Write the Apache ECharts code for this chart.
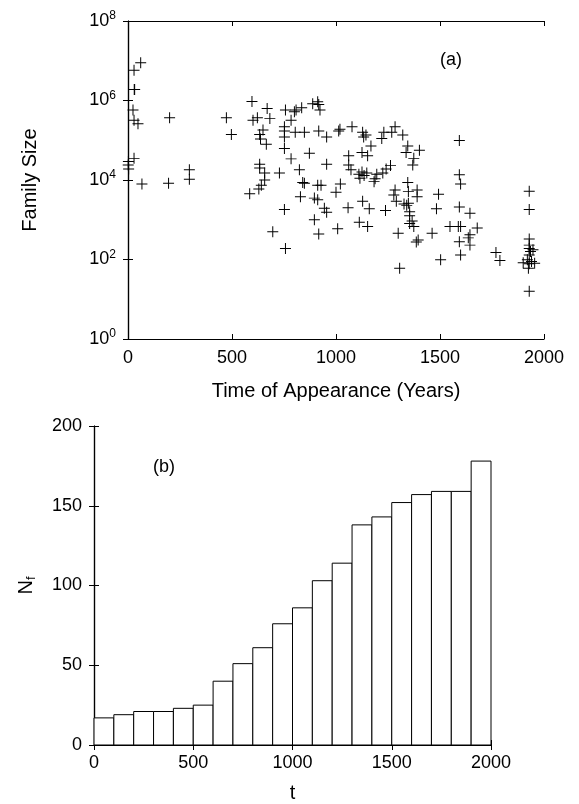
<!DOCTYPE html>
<html>
<head>
<meta charset="utf-8">
<script src="https://cdn.jsdelivr.net/npm/echarts@6/dist/echarts.min.js"></script>
<style>
html,body{margin:0;padding:0;background:#fff;}
#main{width:579px;height:804px;}
</style>
</head>
<body>
<div id="main"></div>
<script>
// (a) time of appearance (years) and family size
const appearYears = [
  61, 29, 32, 30, 24, 29, 48, 200, 29, 2, 1, 3, 67, 195, 295, 295,
  473, 497, 596, 669, 622, 601, 682, 757, 800, 808, 835, 784, 752, 752, 752, 752,
  804, 649, 633, 637, 665, 784, 633, 633, 657, 657, 641, 629, 585, 728, 824, 840,
  829, 752, 696, 757,
  888, 912, 923, 917, 848, 917, 955, 1013, 1019, 1077, 1128, 1144, 1133, 1168, 872, 955,
  1061, 1061, 1072, 1125, 1152, 1110, 1125, 1115, 1135, 1148, 1196, 1183, 848, 912, 928, 1021,
  1000, 896, 912, 944, 955, 1058, 1128, 1160, 896, 1008, 1112, 1152, 917,
  1230, 1220, 1268, 1284, 1321, 1345, 1337, 1401, 1374, 1369, 1262, 1241, 1225, 1188, 1345, 1348,
  1284, 1278, 1290, 1390, 1390, 1348, 1340, 1327, 1493, 1483, 1238, 1354, 1354, 1366, 1354, 1374,
  1299, 1462, 1395, 1386, 1503, 1306,
  1593, 1593, 1599, 1593, 1644, 1548, 1588, 1599, 1679, 1644, 1636, 1644, 1593, 1599, 1769, 1788,
  1929, 1929, 1929, 1929, 1929, 1935, 1947, 1929, 1920, 1940, 1929, 1955, 1900, 1925, 1929
];
const familySizes = [
  8.9e6, 5.8e6, 1.9e6, 1.9e6, 5.8e5, 3.2e5, 2.6e5, 3.7e5, 3.5e4, 2.9e4, 2.4e4, 1.9e4, 7.9e3, 8.3e3, 1.8e4, 1.05e4,
  3.7e5, 1.4e5, 9.5e5, 6.3e5, 3.7e5, 3.2e5, 3.5e5, 5.8e5, 5.2e5, 5.8e5, 6.6e5, 3.2e5, 2.2e5, 1.7e5, 1.2e5, 6.2e4,
  1.6e5, 1.8e5, 1.4e5, 1.07e5, 7.9e4, 3.4e4, 2.5e4, 2.0e4, 1.5e4, 1.0e4, 7.4e3, 5.9e3, 4.5e3, 1.5e4, 1.8e4, 8.7e3,
  3.8e3, 1.8e3, 500, 190,
  8.3e5, 9.3e5, 5.8e5, 7.9e5, 1.6e5, 1.7e5, 1.2e5, 1.7e5, 1.9e5, 2.2e5, 1.6e5, 1.35e5, 1.2e5, 7.2e4, 4.7e4, 2.5e4,
  4.1e4, 2.4e4, 1.8e4, 4.9e4, 4.1e4, 1.4e4, 1.6e4, 1.1e4, 1.3e4, 1.5e4, 1.4e4, 9.1e3, 8.3e3, 7.4e3, 7.4e3, 7.9e3,
  4.9e3, 3.5e3, 3.2e3, 1.95e3, 1.55e3, 2.0e3, 2.9e3, 1.9e3, 1.0e3, 590, 870, 680, 440,
  1.6e5, 1.1e5, 1.6e5, 2.2e5, 1.35e5, 7.2e4, 4.9e4, 5.6e4, 3.5e4, 2.4e4, 2.3e4, 1.9e4, 1.5e4, 1.07e4, 8.7e3, 5.1e3,
  5.6e3, 4.2e3, 2.9e3, 5.6e3, 3.8e3, 2.6e3, 2.3e3, 2.5e3, 4.4e3, 1.9e3, 1.7e3, 1.6e3, 1.26e3, 930, 810, 680,
  460, 460, 310, 275, 98, 60,
  9.8e4, 1.35e4, 7.9e3, 2.1e3, 1.45e3, 680, 680, 680, 620, 420, 350, 230, 280, 130, 150, 95,
  5.2e3, 1.8e3, 330, 230, 190, 160, 175, 130, 98, 89, 78, 81, 83, 60, 16
];
// (b) number of families N_f per time bin
const binStarts = [0, 100, 200, 300, 400, 500, 600, 700, 800, 900, 1000, 1100, 1200, 1300, 1400, 1500, 1600, 1700, 1800, 1900];
const binEnds   = [100, 200, 300, 400, 500, 600, 700, 800, 900, 1000, 1100, 1200, 1300, 1400, 1500, 1600, 1700, 1800, 1900, 2000];
const familyCounts = [17, 19, 21, 21, 23, 25, 40, 51, 61, 76, 86, 103, 114, 138, 143, 152, 157, 159, 159, 178];

const FONT = 'Liberation Sans, Arial, Helvetica, sans-serif';
const scatterData = appearYears.map((y, i) => [y, familySizes[i]]);
const histData = binStarts.map((s, i) => [s, binEnds[i], familyCounts[i]]);

const tickStyle = { show: true, inside: true, length: 5, lineStyle: { color: '#000', width: 1 } };
const lineStyle = { show: true, lineStyle: { color: '#000', width: 1.2 } };
const plain = v => String(v);
const lblStyle = { color: '#000', fontFamily: FONT, fontSize: 18, formatter: plain };

const chart = echarts.init(document.getElementById('main'), null, { renderer: 'canvas' });
chart.setOption({
  animation: false,
  backgroundColor: '#fff',
  grid: [
    { left: 128, top: 21, width: 416, height: 318 },
    { left: 94, top: 426, width: 397, height: 320 }
  ],
  xAxis: [
    { type: 'value', gridIndex: 0, min: 0, max: 2000, interval: 500, position: 'bottom',
      axisLine: lineStyle, axisTick: tickStyle, splitLine: { show: false },
      axisLabel: Object.assign({ margin: 10 }, lblStyle),
      name: 'Time of Appearance (Years)', nameLocation: 'middle', nameGap: 42,
      nameTextStyle: { color: '#000', fontFamily: FONT, fontSize: 20 } },
    { type: 'value', gridIndex: 0, min: 0, max: 2000, interval: 500, position: 'top',
      axisLine: lineStyle, axisTick: tickStyle, splitLine: { show: false }, axisLabel: { show: false } },
    { type: 'value', gridIndex: 1, min: 0, max: 2000, interval: 500, position: 'bottom',
      axisLine: lineStyle, axisTick: tickStyle, splitLine: { show: false },
      axisLabel: Object.assign({ margin: 9 }, lblStyle),
      name: 't', nameLocation: 'middle', nameGap: 38,
      nameTextStyle: { color: '#000', fontFamily: FONT, fontSize: 20 } },
    { type: 'value', gridIndex: 1, min: 0, max: 2000, interval: 500, position: 'top',
      axisLine: lineStyle, axisTick: tickStyle, splitLine: { show: false }, axisLabel: { show: false } }
  ],
  yAxis: [
    { type: 'log', logBase: 10, gridIndex: 0, min: 1, max: 1e8, interval: 2, position: 'left',
      axisLine: lineStyle, axisTick: tickStyle, splitLine: { show: false }, minorTick: { show: false },
      axisLabel: {
        margin: 12, color: '#000', fontFamily: FONT,
        formatter: v => '{b|10}{s|' + Math.round(Math.log10(v)) + '}',
        rich: {
          b: { fontSize: 18, fontFamily: FONT, color: '#000' },
          s: { fontSize: 12, fontFamily: FONT, color: '#000', verticalAlign: 'bottom', padding: [0, 0, 10, 0] }
        }
      },
      name: 'Family Size', nameLocation: 'middle', nameRotate: 90, nameGap: 88,
      nameTextStyle: { color: '#000', fontFamily: FONT, fontSize: 20 } },
    { type: 'log', logBase: 10, gridIndex: 0, min: 1, max: 1e8, interval: 2, position: 'right',
      axisLine: lineStyle, axisTick: tickStyle, splitLine: { show: false }, axisLabel: { show: false } },
    { type: 'value', gridIndex: 1, min: 0, max: 200, interval: 50, position: 'left',
      axisLine: lineStyle, axisTick: tickStyle, splitLine: { show: false },
      axisLabel: Object.assign({ margin: 12 }, lblStyle),
      name: '{n|N}{f|f}', nameLocation: 'middle', nameRotate: 90, nameGap: 56,
      nameTextStyle: { color: '#000', fontFamily: FONT, fontSize: 20,
        rich: { n: { fontSize: 20, fontFamily: FONT, color: '#000' },
                f: { fontSize: 13, fontFamily: FONT, color: '#000', verticalAlign: 'top', padding: [10, 0, 0, 0] } } } },
    { type: 'value', gridIndex: 1, min: 0, max: 200, interval: 50, position: 'right',
      axisLine: lineStyle, axisTick: tickStyle, splitLine: { show: false }, axisLabel: { show: false } }
  ],
  series: [
    { type: 'scatter', xAxisIndex: 0, yAxisIndex: 0, data: scatterData,
      symbol: 'path://M-0.09,-1 L0.09,-1 L0.09,-0.09 L1,-0.09 L1,0.09 L0.09,0.09 L0.09,1 L-0.09,1 L-0.09,0.09 L-1,0.09 L-1,-0.09 L-0.09,-0.09 Z',
      symbolSize: 11, itemStyle: { color: '#000', opacity: 1 }, silent: true },
    { type: 'custom', xAxisIndex: 2, yAxisIndex: 2, data: histData, encode: { x: [0, 1], y: 2 },
      renderItem: function (params, api) {
        const p0 = api.coord([api.value(0), api.value(2)]);
        const p1 = api.coord([api.value(1), 0]);
        return { type: 'rect',
          shape: { x: p0[0], y: p0[1], width: p1[0] - p0[0], height: p1[1] - p0[1] },
          style: { fill: '#fff', stroke: '#000', lineWidth: 1 } };
      } }
  ],
  graphic: [
    { type: 'text', left: 440, top: 51, style: { text: '(a)', fill: '#000', font: '18px ' + FONT } },
    { type: 'text', left: 153, top: 458, style: { text: '(b)', fill: '#000', font: '18px ' + FONT } }
  ]
});
</script>
</body>
</html>
